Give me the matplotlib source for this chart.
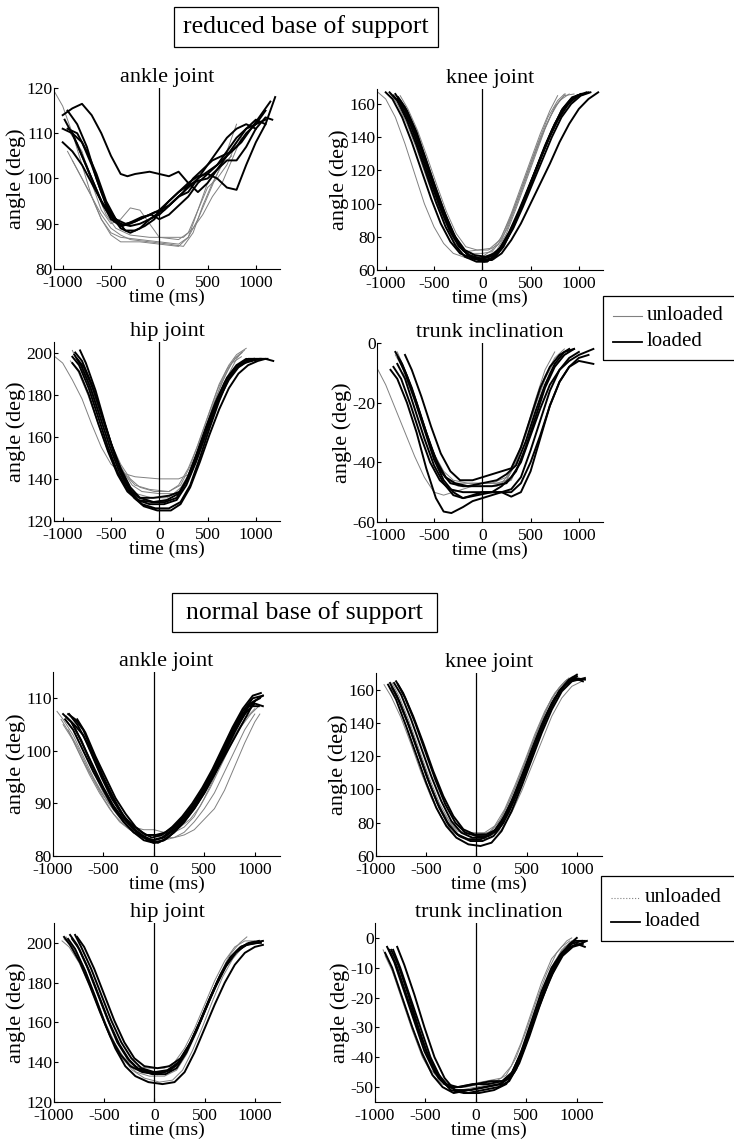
import matplotlib
matplotlib.use("Agg")
import matplotlib.pyplot as plt
import matplotlib.patches as mpatches
import matplotlib.lines as mlines
import numpy as np

plt.rcParams['font.family'] = ['Liberation Serif', 'DejaVu Serif']
plt.rcParams['axes.unicode_minus'] = False

# ---- data: each trace is a list of (time ms, angle deg) ----

# reduced base of support
red_ankle_unloaded = [
    [(-1080,119),(-1000,116),(-900,110),(-800,103),(-700,96),(-600,91),(-500,88),(-400,87),(-200,86.5),(0,86),(200,85.5),(300,87),(400,91),(500,96),(600,101),(700,106),(800,112)],
    [(-950,106),(-850,102),(-700,96),(-600,92),(-500,89),(-400,87.5),(-300,86.5),(-100,86),(100,85.5),(250,85),(350,88),(450,94),(550,99),(650,103),(750,105)],
    [(-920,110),(-800,106),(-700,99),(-600,93),(-500,90),(-400,91),(-300,93.5),(-200,93),(-100,90),(0,87),(200,86.5),(300,88),(400,93),(500,98),(600,100),(700,103),(800,108)],
    [(-900,104),(-800,100),(-700,96),(-600,91),(-500,87.5),(-400,86),(-200,86),(0,85.5),(200,85),(300,87),(400,93),(500,99),(600,102),(700,105)],
    [(-850,108),(-750,103),(-650,97),(-550,92),(-450,89),(-300,87.5),(-100,87),(100,87),(250,87),(350,89),(450,92),(550,96),(650,99),(750,104),(850,109)],
]
red_ankle_loaded = [
    [(-1000,114),(-900,115.5),(-800,116.5),(-700,114),(-600,110),(-500,105),(-400,101),(-330,100.5),(-250,101),(-100,101.5),(0,101),(100,100.5),(200,101.5),(300,99),(400,97),(500,99),(600,102),(700,104),(800,104),(900,107),(1000,111),(1100,113.5),(1170,113)],
    [(-1000,108),(-900,106),(-800,103),(-700,99),(-600,95),(-500,92),(-400,90),(-300,89.5),(-200,90),(-100,91),(0,92),(100,94),(200,96),(300,98),(400,100),(500,101.5),(600,103),(700,105),(800,107),(900,110),(1000,112),(1100,113)],
    [(-950,111),(-850,110),(-750,106),(-650,101),(-550,95),(-450,91),(-350,88.5),(-250,88.5),(-150,89.5),(-50,91),(0,93),(100,94),(200,96),(300,97),(400,100),(500,103),(600,106),(700,109),(800,111),(900,112),(1000,111)],
    [(-900,110),(-800,108),(-700,103),(-600,97),(-500,92),(-400,89),(-300,88),(-200,89),(-100,91),(0,92.5),(100,95),(200,97),(300,99),(400,100.5),(500,101),(600,100),(700,98),(800,97.5),(900,103),(1000,108),(1100,112),(1200,118)],
    [(-950,115),(-850,112),(-750,107),(-650,100),(-550,94),(-450,91),(-350,90),(-250,90.5),(-150,91.5),(-50,92.5),(50,93),(150,95),(250,97),(350,100),(450,102),(550,104),(650,105),(750,106),(850,108),(950,111),(1050,114),(1150,117)],
    [(-1000,111),(-900,110),(-800,105),(-700,100),(-600,95),(-500,91),(-400,89.5),(-300,90),(-200,91),(-100,92),(0,93),(100,95),(200,97),(300,98.5),(400,99.5),(500,100),(600,102),(700,105),(800,108),(900,111),(1000,113),(1100,112)],
    [(-980,113),(-880,109),(-780,104),(-680,99),(-580,94),(-480,91),(-380,89.5),(-280,90.5),(-180,91.5),(-80,92),(0,91),(100,92),(200,94),(300,96),(400,99),(500,101),(600,103),(700,106),(800,109),(900,111),(1000,112),(1100,115)],
]

red_knee_unloaded = [
    [(-1080,167),(-1000,163),(-900,152),(-800,136),(-700,118),(-600,100),(-500,86),(-400,76),(-300,70),(-150,67),(0,68),(100,72),(200,80),(300,94),(400,110),(500,126),(600,142),(700,156),(780,165)],
    [(-950,166),(-880,160),(-780,148),(-680,133),(-580,116),(-480,100),(-380,86),(-280,76),(-180,71),(-50,72),(80,73),(180,78),(280,90),(380,105),(480,121),(580,137),(680,152),(780,162),(850,166)],
    [(-900,164),(-820,156),(-720,143),(-620,127),(-520,110),(-420,94),(-320,81),(-220,73),(-100,70),(0,70),(100,71),(200,78),(300,92),(400,108),(500,124),(600,139),(700,152),(800,162),(900,166)],
    [(-880,162),(-800,155),(-700,141),(-600,124),(-500,107),(-400,91),(-300,79),(-200,72),(-80,68),(50,68),(150,72),(250,82),(350,97),(450,113),(550,129),(650,145),(750,158),(850,165),(950,166)],
    [(-850,165),(-770,157),(-670,144),(-570,128),(-470,111),(-370,95),(-270,82),(-170,74),(-50,72),(60,72),(160,75),(260,85),(360,100),(460,116),(560,132),(660,147),(760,159),(860,166)],
]
red_knee_loaded = [
    [(-960,167),(-880,162),(-780,150),(-680,135),(-580,118),(-480,101),(-380,86),(-280,75),(-180,68),(-60,65),(50,65),(150,70),(250,79),(350,91),(450,105),(550,120),(650,135),(750,148),(850,158),(950,164),(1050,166)],
    [(-900,166),(-830,160),(-730,148),(-630,132),(-530,115),(-430,98),(-330,84),(-230,74),(-130,68),(0,66),(100,67),(200,73),(300,84),(400,97),(500,112),(600,127),(700,141),(800,153),(900,161),(1000,165),(1100,167)],
    [(-870,164),(-800,158),(-700,145),(-600,129),(-500,112),(-400,96),(-300,82),(-200,72),(-100,67),(20,65),(120,67),(220,74),(320,86),(420,100),(520,115),(620,130),(720,144),(820,156),(920,163),(1020,166)],
    [(-920,165),(-840,159),(-740,147),(-640,131),(-540,114),(-440,98),(-340,84),(-240,74),(-140,69),(-20,67),(80,68),(180,73),(280,83),(380,96),(480,110),(580,124),(680,138),(780,150),(880,159),(980,165),(1080,167)],
    [(-880,163),(-800,157),(-700,144),(-600,128),(-500,111),(-400,95),(-300,81),(-200,72),(-100,67),(0,66),(100,66),(200,70),(300,78),(400,88),(500,100),(600,112),(700,124),(800,137),(900,148),(1000,157),(1100,163),(1200,167)],
    [(-850,162),(-780,156),(-680,143),(-580,126),(-480,109),(-380,93),(-280,80),(-180,72),(-80,69),(30,68),(130,70),(230,76),(330,87),(430,101),(530,116),(630,131),(730,145),(830,157),(930,164),(1030,166)],
    [(-1000,167),(-930,163),(-830,152),(-730,137),(-630,120),(-530,103),(-430,88),(-330,77),(-230,70),(-100,67),(20,67),(120,69),(220,75),(320,85),(420,98),(520,112),(620,126),(720,140),(820,152),(920,160),(1020,165),(1120,167)],
]

red_hip_unloaded = [
    [(-1080,198),(-1000,195),(-900,187),(-800,178),(-700,166),(-600,155),(-500,147),(-400,143),(-250,141),(0,140),(200,140),(300,142),(400,150),(500,162),(600,176),(700,188),(800,197),(850,200)],
    [(-900,201),(-850,196),(-750,187),(-650,174),(-550,161),(-450,150),(-350,142),(-250,137),(-100,135),(100,134),(200,137),(300,145),(400,156),(500,169),(600,182),(700,192),(800,198),(880,201)],
    [(-880,199),(-800,193),(-700,182),(-600,169),(-500,157),(-400,147),(-300,140),(-200,136),(-50,134),(100,134),(220,137),(320,146),(420,159),(520,172),(620,185),(720,194),(800,199),(900,202)],
    [(-850,197),(-780,192),(-680,180),(-580,167),(-480,154),(-380,144),(-280,137),(-180,134),(0,133),(150,133),(250,137),(350,147),(450,160),(550,174),(650,186),(750,195),(850,198)],
    [(-920,196),(-840,191),(-740,180),(-640,167),(-540,154),(-440,144),(-340,137),(-240,133),(-80,131),(80,131),(200,134),(300,142),(400,154),(500,167),(600,180),(700,191),(780,197),(860,200)],
]
red_hip_loaded = [
    [(-900,198),(-830,194),(-730,183),(-630,169),(-530,155),(-430,143),(-330,135),(-230,130),(-100,128),(50,128),(180,130),(280,137),(380,148),(480,161),(580,174),(680,185),(780,192),(880,196),(980,197)],
    [(-870,200),(-800,196),(-700,185),(-600,171),(-500,157),(-400,145),(-300,136),(-200,131),(-60,129),(80,130),(200,133),(300,141),(400,153),(500,166),(600,178),(700,188),(800,194),(900,197),(1000,196)],
    [(-850,197),(-780,193),(-680,182),(-580,168),(-480,154),(-380,142),(-280,133),(-180,128),(-40,126),(100,126),(220,129),(320,137),(420,150),(520,164),(620,177),(720,188),(820,194),(920,197),(1050,197)],
    [(-820,201),(-760,195),(-660,182),(-560,166),(-460,151),(-360,139),(-260,131),(-160,127),(-20,125),(120,125),(220,128),(320,136),(420,148),(520,161),(620,173),(720,183),(820,190),(920,194),(1020,196),(1100,197),(1180,196)],
    [(-900,195),(-830,191),(-730,180),(-630,166),(-530,153),(-430,142),(-330,134),(-230,130),(-80,129),(60,129),(180,131),(280,139),(380,151),(480,164),(580,176),(680,186),(780,192),(880,195),(960,196)],
    [(-880,199),(-810,194),(-710,183),(-610,169),(-510,155),(-410,143),(-310,135),(-210,131),(-60,131),(100,132),(220,134),(320,142),(420,154),(520,167),(620,178),(720,187),(820,193),(920,196),(1040,197),(1120,197)],
]

red_trunk_unloaded = [
    [(-1080,-9),(-1000,-14),(-900,-22),(-800,-30),(-700,-38),(-600,-45),(-500,-50),(-400,-51),(-300,-50),(-200,-49),(-100,-48),(0,-47),(150,-47),(250,-46),(350,-40),(450,-30),(550,-19),(650,-9),(750,-3)],
    [(-900,-4),(-830,-8),(-730,-16),(-630,-26),(-530,-36),(-430,-43),(-330,-47),(-200,-48),(0,-48),(150,-48),(250,-46),(350,-40),(450,-31),(550,-21),(650,-12),(750,-6),(850,-3)],
    [(-850,-6),(-780,-11),(-680,-20),(-580,-30),(-480,-39),(-380,-45),(-280,-47),(-100,-47),(100,-47),(250,-45),(350,-39),(450,-30),(550,-20),(650,-11),(750,-5),(850,-2)],
    [(-880,-3),(-800,-9),(-700,-18),(-600,-28),(-500,-37),(-400,-43),(-300,-46),(-150,-47),(50,-47),(200,-47),(300,-43),(400,-35),(500,-26),(600,-16),(700,-8),(800,-4),(900,-2)],
    [(-820,-10),(-750,-15),(-650,-24),(-550,-33),(-450,-41),(-350,-46),(-250,-48),(-50,-48),(150,-48),(300,-46),(400,-39),(500,-29),(600,-18),(700,-10),(800,-5),(900,-3)],
]
red_trunk_loaded = [
    [(-950,-9),(-880,-12),(-780,-20),(-680,-30),(-580,-42),(-480,-52),(-400,-56.5),(-320,-57),(-200,-55),(-100,-53),(0,-52),(100,-51),(200,-50),(300,-49),(400,-45),(500,-36),(600,-26),(700,-16),(800,-9),(900,-5),(1000,-3)],
    [(-900,-3),(-830,-7),(-730,-15),(-630,-25),(-530,-35),(-430,-43),(-330,-47),(-200,-48),(-50,-48),(100,-48),(250,-47),(350,-43),(450,-35),(550,-25),(650,-15),(750,-8),(850,-4),(950,-2)],
    [(-870,-5),(-800,-10),(-700,-19),(-600,-29),(-500,-39),(-400,-46),(-300,-50),(-200,-52),(-50,-51),(100,-50),(200,-50),(300,-51.5),(400,-50),(500,-43),(600,-32),(700,-21),(800,-13),(900,-8),(1000,-5),(1100,-4)],
    [(-850,-6),(-780,-11),(-680,-20),(-580,-30),(-480,-39),(-380,-45),(-280,-47),(-150,-48),(0,-47),(150,-46),(250,-44),(350,-41),(450,-33),(550,-23),(650,-14),(750,-7),(850,-3),(950,-2)],
    [(-920,-8),(-840,-12),(-740,-21),(-640,-31),(-540,-40),(-440,-46),(-340,-49),(-200,-50),(-50,-50),(100,-50),(200,-48),(300,-45),(400,-40),(500,-31),(600,-22),(700,-14),(800,-9),(900,-6),(1000,-4),(1150,-2)],
    [(-800,-4),(-730,-9),(-630,-18),(-530,-28),(-430,-37),(-330,-43),(-230,-46),(-100,-46),(0,-45),(100,-44),(200,-43),(300,-42),(400,-35),(500,-25),(600,-15),(700,-8),(800,-4),(900,-2)],
    [(-880,-7),(-800,-12),(-700,-22),(-600,-32),(-500,-41),(-400,-47),(-300,-51),(-200,-52),(-100,-51),(0,-50),(150,-50),(300,-50),(400,-47),(500,-40),(600,-31),(700,-21),(800,-13),(900,-8),(1000,-6),(1150,-7)],
]

# normal base of support
nor_ankle_unloaded = [
    [(-960,107.5),(-900,106),(-800,103),(-700,99),(-600,95),(-500,91.5),(-400,89),(-300,87),(-200,85.5),(-100,85),(0,85),(100,84.5),(200,84.5),(300,85.5),(400,87.5),(500,91),(600,95),(700,99),(800,103),(900,106),(1000,108)],
    [(-900,105),(-800,102),(-700,98),(-600,94.5),(-500,91),(-400,88),(-300,86),(-200,84.5),(-100,83.5),(0,83),(100,83),(200,83.5),(300,84.5),(400,86.5),(500,89),(600,92),(700,96),(800,100),(900,104),(1000,107)],
    [(-880,106),(-800,104),(-700,100),(-600,96),(-500,92),(-400,89),(-300,87),(-200,85),(-100,84),(0,84),(100,83.5),(200,83.5),(300,84),(400,85),(500,87),(600,89),(700,92.5),(800,97),(900,101.5),(1000,105.5),(1050,107)],
    [(-850,104),(-750,100.5),(-650,96.5),(-550,93),(-450,90),(-350,87.5),(-250,85.5),(-150,84.5),(-50,84),(50,84),(150,85),(250,86),(350,88),(450,91),(550,94),(650,98),(750,102),(850,105.5),(950,108)],
    [(-920,106),(-840,103.5),(-740,99.5),(-640,95.5),(-540,92),(-440,89),(-340,86.5),(-240,85),(-140,84),(-40,84),(60,84),(160,84.5),(260,85.5),(360,87),(460,89.5),(560,93),(660,97),(760,101),(860,104.5),(960,107),(1040,108.5)],
]
nor_ankle_loaded = [
    [(-900,107),(-820,105.5),(-720,102),(-620,97.5),(-520,93.5),(-420,90),(-320,87.5),(-220,85.5),(-120,84),(-20,83),(80,83.5),(180,85),(280,87),(380,89.5),(480,92.5),(580,96),(680,100),(780,104),(880,107.5),(980,110),(1080,110.5)],
    [(-870,106.5),(-790,105),(-700,103),(-620,99.5),(-520,95),(-420,91),(-320,88),(-220,86),(-120,84.5),(-20,83.5),(80,84),(180,85.5),(280,87.5),(380,90),(480,93),(580,96.5),(680,100.5),(780,104.5),(880,108),(980,110.5),(1060,111)],
    [(-840,107),(-760,105),(-660,101.5),(-560,97),(-460,93),(-360,89.5),(-260,86.5),(-160,84.5),(-60,83),(40,82.5),(140,83.5),(240,85.5),(340,88),(440,91),(540,94.5),(640,98.5),(740,102.5),(840,106),(940,108.5),(1040,108.5)],
    [(-800,105),(-700,101),(-600,97),(-500,93),(-400,89.5),(-300,86.5),(-200,84.5),(-100,83),(0,82.5),(100,83),(200,84.5),(300,86.5),(400,89),(500,92),(600,95.5),(700,99.5),(800,103.5),(900,107),(1000,109),(1080,108.5)],
    [(-880,106),(-800,104),(-700,100),(-600,96),(-500,92.5),(-400,89),(-300,86.5),(-200,84.5),(-100,83.5),(0,83),(100,83.5),(200,85),(300,87),(400,89.5),(500,92.5),(600,96),(700,100),(800,104),(900,107),(950,109),(1050,110)],
    [(-760,106),(-680,103.5),(-580,99),(-480,95),(-380,91),(-280,88),(-180,85.5),(-80,84),(20,84),(120,84.5),(220,86),(320,88),(420,90.5),(520,93.5),(620,97),(720,101),(820,105),(920,108),(1000,109.5)],
    [(-850,107),(-780,106),(-700,104),(-600,99.5),(-500,95),(-400,91),(-300,87.5),(-200,85),(-100,83.5),(0,82.5),(100,83),(200,84.5),(300,86.5),(400,89),(500,92),(600,95.5),(700,99),(800,102.5),(900,106),(1000,109.5),(1080,110.5)],
]

nor_knee_unloaded = [
    [(-920,163),(-850,156),(-750,143),(-650,127),(-550,110),(-450,95),(-350,83),(-250,75),(-150,71),(0,70),(150,71),(250,76),(350,86),(450,99),(550,114),(650,129),(750,144),(850,155),(950,162),(1050,165)],
    [(-860,163),(-790,156),(-690,141),(-590,124),(-490,107),(-390,92),(-290,81),(-190,75),(-80,73),(50,73),(150,75),(250,83),(350,96),(450,111),(550,127),(650,142),(750,155),(850,163),(920,167)],
    [(-820,160),(-740,150),(-640,134),(-540,117),(-440,100),(-340,87),(-240,78),(-140,74),(0,73),(120,74),(220,80),(320,92),(420,106),(520,122),(620,137),(720,151),(820,161),(900,166)],
    [(-840,164),(-770,156),(-670,141),(-570,124),(-470,107),(-370,92),(-270,81),(-170,75),(-40,74),(80,74),(180,78),(280,88),(380,102),(480,117),(580,133),(680,147),(780,158),(880,165),(960,168)],
]
nor_knee_loaded = [
    [(-860,164),(-790,156),(-690,141),(-590,124),(-490,107),(-390,92),(-290,80),(-190,73),(-80,70),(40,70),(150,73),(250,81),(350,93),(450,108),(550,124),(650,139),(750,152),(850,161),(950,166),(1050,166)],
    [(-820,164),(-750,157),(-650,142),(-550,125),(-450,108),(-350,93),(-250,81),(-150,74),(-40,71),(80,71),(180,75),(280,84),(380,97),(480,112),(580,128),(680,143),(780,155),(880,163),(980,167),(1080,166)],
    [(-880,163),(-800,154),(-700,138),(-600,121),(-500,104),(-400,89),(-300,78),(-200,71),(-80,67),(40,66),(150,68),(250,75),(350,87),(450,102),(550,118),(650,134),(750,148),(850,159),(950,165),(1080,167)],
    [(-780,163),(-710,155),(-610,140),(-510,123),(-410,106),(-310,91),(-210,80),(-110,74),(0,72),(120,72),(220,76),(320,86),(420,100),(520,116),(620,132),(720,147),(820,159),(920,166),(1000,169)],
    [(-840,161),(-770,153),(-670,138),(-570,121),(-470,104),(-370,89),(-270,78),(-170,72),(-60,69),(60,69),(170,72),(270,80),(370,93),(470,108),(570,124),(670,140),(770,153),(870,162),(970,167),(1060,165)],
    [(-800,165),(-730,158),(-630,144),(-530,128),(-430,111),(-330,96),(-230,84),(-130,76),(-20,73),(100,73),(200,76),(300,85),(400,98),(500,113),(600,129),(700,144),(800,156),(900,164),(1000,168)],
]

nor_hip_unloaded = [
    [(-920,201),(-850,198),(-750,190),(-650,179),(-550,166),(-450,154),(-350,145),(-250,139),(-150,136),(0,135),(150,136),(250,140),(350,149),(450,160),(550,172),(650,184),(750,194),(850,200),(920,203)],
    [(-880,203),(-800,197),(-700,187),(-600,174),(-500,161),(-400,150),(-300,142),(-200,138),(-50,137),(100,137),(200,140),(300,147),(400,157),(500,169),(600,181),(700,191),(800,198),(900,201),(1000,201)],
    [(-860,200),(-780,195),(-680,185),(-580,172),(-480,159),(-380,148),(-280,140),(-180,135),(-50,133),(100,133),(220,136),(320,144),(420,155),(520,167),(620,179),(720,189),(820,196),(920,200),(1050,200)],
    [(-900,202),(-820,198),(-720,188),(-620,176),(-520,163),(-420,151),(-320,142),(-220,136),(-100,132),(50,130),(180,131),(280,136),(380,146),(480,158),(580,171),(680,183),(780,192),(880,198),(980,200)],
]
nor_hip_loaded = [
    [(-900,203),(-840,199),(-740,190),(-640,178),(-540,165),(-440,153),(-340,144),(-240,138),(-120,135),(30,134),(160,136),(260,141),(360,150),(460,161),(560,173),(660,184),(760,193),(860,198),(960,200),(1060,200)],
    [(-790,204),(-730,198),(-630,187),(-530,174),(-430,161),(-330,150),(-230,142),(-130,137),(0,135),(130,136),(240,140),(340,148),(440,159),(540,171),(640,182),(740,191),(840,197),(940,200),(1040,201)],
    [(-860,202),(-790,197),(-690,186),(-590,173),(-490,159),(-390,147),(-290,138),(-190,133),(-60,130),(80,129),(200,130),(300,135),(400,145),(500,157),(600,169),(700,180),(800,189),(900,195),(1000,198),(1080,199)],
    [(-820,202),(-750,197),(-650,186),(-550,173),(-450,160),(-350,149),(-250,141),(-150,136),(-20,134),(110,134),(220,137),(320,145),(420,156),(520,168),(620,180),(720,190),(820,196),(920,199),(1030,200)],
    [(-770,203),(-700,198),(-600,187),(-500,174),(-400,161),(-300,150),(-200,142),(-100,138),(30,137),(150,138),(260,142),(360,150),(460,161),(560,173),(660,184),(760,193),(860,198),(960,200),(1080,201)],
    [(-840,204),(-770,199),(-670,188),(-570,175),(-470,162),(-370,150),(-270,142),(-170,137),(-40,135),(100,135),(210,138),(310,145),(410,155),(510,167),(610,178),(710,188),(810,195),(910,199),(1010,200)],
]

nor_trunk_unloaded = [
    [(-920,-4),(-850,-9),(-750,-18),(-650,-28),(-550,-37),(-450,-44),(-350,-48),(-250,-50),(-100,-50),(50,-49),(200,-48),(300,-46),(400,-40),(500,-31),(600,-21),(700,-12),(800,-5),(900,-1),(950,0)],
    [(-880,-3),(-810,-8),(-710,-17),(-610,-27),(-510,-37),(-410,-44),(-310,-49),(-200,-51),(-50,-51),(100,-50),(250,-49),(350,-46),(450,-39),(550,-29),(650,-19),(750,-10),(850,-4),(950,-1)],
    [(-850,-5),(-780,-10),(-680,-20),(-580,-30),(-480,-39),(-380,-46),(-280,-50),(-150,-51),(0,-50),(150,-49),(280,-48),(380,-44),(480,-36),(580,-26),(680,-16),(780,-8),(880,-3),(980,-1)],
    [(-900,-6),(-830,-11),(-730,-21),(-630,-31),(-530,-40),(-430,-46),(-330,-49),(-200,-50),(-50,-49),(100,-48),(250,-47),(350,-43),(450,-35),(550,-25),(650,-15),(750,-7),(850,-3),(930,-1)],
]
nor_trunk_loaded = [
    [(-880,-3),(-810,-8),(-710,-18),(-610,-28),(-510,-38),(-410,-45),(-310,-49),(-200,-51),(-50,-51),(100,-50),(250,-49),(350,-46),(450,-38),(550,-28),(650,-18),(750,-10),(850,-5),(950,-2),(1050,-1)],
    [(-820,-4),(-750,-10),(-650,-20),(-550,-30),(-450,-40),(-350,-47),(-250,-51),(-120,-52),(30,-52),(180,-51),(300,-49),(400,-44),(500,-35),(600,-25),(700,-15),(800,-8),(900,-4),(1000,-2),(1080,-3)],
    [(-780,-3),(-710,-9),(-610,-19),(-510,-30),(-410,-40),(-310,-47),(-210,-51),(-80,-52),(70,-51),(220,-50),(330,-48),(430,-42),(530,-33),(630,-23),(730,-14),(830,-7),(930,-3),(1030,-2),(1100,-1)],
    [(-900,-5),(-830,-10),(-730,-20),(-630,-30),(-530,-39),(-430,-46),(-330,-50),(-220,-52),(-70,-51),(80,-50),(230,-49),(330,-47),(430,-40),(530,-31),(630,-22),(730,-13),(830,-6),(930,-2),(1000,0)],
    [(-860,-4),(-790,-9),(-690,-19),(-590,-29),(-490,-38),(-390,-45),(-290,-49),(-180,-50),(-30,-49),(120,-49),(260,-48),(360,-45),(460,-38),(560,-29),(660,-20),(760,-12),(860,-6),(960,-3),(1060,-2)],
    [(-840,-4),(-770,-9),(-670,-19),(-570,-30),(-470,-40),(-370,-47),(-270,-50),(-150,-50),(0,-49),(150,-48),(280,-48),(380,-45),(480,-37),(580,-27),(680,-17),(780,-9),(880,-4),(980,-1),(1080,-1)],
]

titles = ["ankle joint", "knee joint", "hip joint", "trunk inclination"]
time_ticks = [-1000, -500, 0, 500, 1000]

# ---- figure ----
W, H = 734, 1143
fig = plt.figure(figsize=(W / 100, H / 100), dpi=100)


def add_ax(x0, y0, x1, y1):
    return fig.add_axes([x0 / W, 1 - y1 / H, (x1 - x0) / W, (y1 - y0) / H])


def panel(ax, unloaded, loaded, title, xlim, ylim, yticks):
    for tr in unloaded:
        t, a = np.array(tr).T
        ax.plot(t, a, color='0.5', lw=0.7)
    for tr in loaded:
        t, a = np.array(tr).T
        ax.plot(t, a, color='k', lw=1.4)
    ax.axvline(0, color='k', lw=0.9)
    ax.set_xlim(xlim)
    ax.set_ylim(ylim)
    ax.set_xticks(time_ticks)
    ax.set_yticks(yticks)
    ax.spines['top'].set_visible(False)
    ax.spines['right'].set_visible(False)
    ax.tick_params(direction='in', length=3, labelsize=12.5)
    ax.tick_params(axis='x', pad=4)
    ax.tick_params(axis='y', pad=1)
    ax.set_title(title, fontsize=16, pad=4)
    ax.set_xlabel("time (ms)", fontsize=14, labelpad=-1)
    ax.set_ylabel("angle (deg)", fontsize=16, labelpad=0)


red_x = (-1090, 1250)
nor_x = (-1000, 1250)

ax = add_ax(54, 88, 280, 269)
panel(ax, red_ankle_unloaded, red_ankle_loaded, titles[0], red_x, (80, 120), [80, 90, 100, 110, 120])
ax = add_ax(377, 89, 603, 270)
panel(ax, red_knee_unloaded, red_knee_loaded, titles[1], red_x, (60, 169), [60, 80, 100, 120, 140, 160])
ax = add_ax(54, 342, 280, 521)
panel(ax, red_hip_unloaded, red_hip_loaded, titles[2], red_x, (120, 205), [120, 140, 160, 180, 200])
ax = add_ax(377, 343, 603, 522)
panel(ax, red_trunk_unloaded, red_trunk_loaded, titles[3], red_x, (-60, 0), [-60, -40, -20, 0])

ax = add_ax(53, 672, 280, 856)
panel(ax, nor_ankle_unloaded, nor_ankle_loaded, titles[0], nor_x, (80, 115), [80, 90, 100, 110])
ax = add_ax(376, 673, 602, 856)
panel(ax, nor_knee_unloaded, nor_knee_loaded, titles[1], nor_x, (60, 170), [60, 80, 100, 120, 140, 160])
ax = add_ax(54, 923, 280, 1102)
panel(ax, nor_hip_unloaded, nor_hip_loaded, titles[2], nor_x, (120, 210), [120, 140, 160, 180, 200])
ax = add_ax(375, 923, 602, 1102)
panel(ax, nor_trunk_unloaded, nor_trunk_loaded, titles[3], nor_x, (-55, 5), [-50, -40, -30, -20, -10, 0])


def fx(px):
    return px / W


def fy(py):
    return 1 - py / H


def header_box(x0, y0, x1, y1, text):
    fig.patches.append(mpatches.Rectangle((fx(x0), fy(y1)), fx(x1) - fx(x0), fy(y0) - fy(y1),
                                          transform=fig.transFigure, fill=False, ec='k', lw=0.9))
    fig.text(fx((x0 + x1) / 2), fy((y0 + y1) / 2), text, ha='center', va='center', fontsize=18.5)


header_box(174, 7, 438, 47, "reduced base of support")
header_box(172, 593, 437, 632, "normal base of support")


def legend_box(x0, y0, y1, y_un, y_lo, un_style):
    fig.patches.append(mpatches.Rectangle((fx(x0), fy(y1)), fx(760) - fx(x0), fy(y0) - fy(y1),
                                          transform=fig.transFigure, fill=False, ec='k', lw=0.9))
    fig.lines.append(mlines.Line2D([fx(x0 + 10), fx(x0 + 39)], [fy(y_un), fy(y_un)],
                                   transform=fig.transFigure, color='0.5', lw=0.8, ls=un_style))
    fig.lines.append(mlines.Line2D([fx(x0 + 10), fx(x0 + 39)], [fy(y_lo), fy(y_lo)],
                                   transform=fig.transFigure, color='k', lw=1.3))
    fig.text(fx(x0 + 44), fy(y_un), "unloaded", ha='left', va='center', fontsize=15)
    fig.text(fx(x0 + 44), fy(y_lo), "loaded", ha='left', va='center', fontsize=15)


legend_box(603, 296, 360, 316, 342, '-')
legend_box(601, 876, 941, 898, 922, ':')

fig.savefig("out.png", dpi=100)
